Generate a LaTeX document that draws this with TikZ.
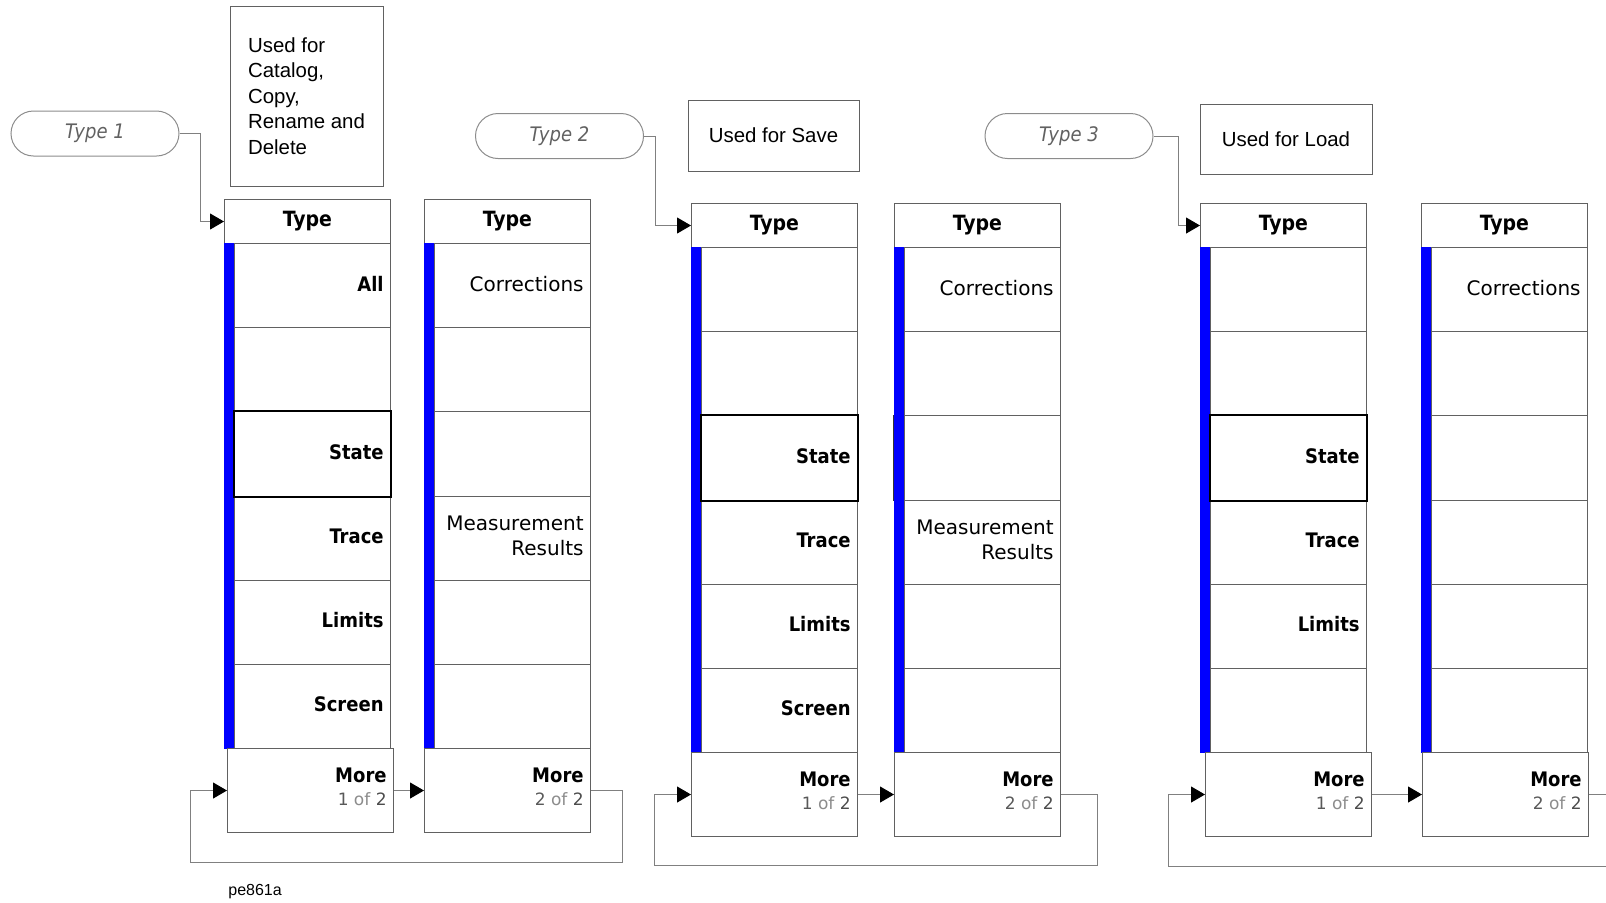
\documentclass[tikz,border=0pt]{standalone}
\usepackage{fontspec}
\setmainfont{Liberation Sans}
\newfontfamily\keyfont{DejaVu Sans Condensed}
\newfontfamily\keyregfont{DejaVu Sans}
\usetikzlibrary{arrows.meta,positioning,calc,shapes.misc}

\definecolor{keyblue}{RGB}{0,0,255}
\colorlet{keyline}{black!62}
\colorlet{linkline}{black!50}

\tikzset{
  menutitle/.style={draw=keyline, line width=0.5pt, minimum width=83pt, minimum height=22pt,
    inner sep=0pt, anchor=north west, font=\keyfont\bfseries\fontsize{10.5}{12}\selectfont},
  softkey/.style={draw=keyline, line width=0.5pt, minimum width=78pt, minimum height=42.1pt,
    inner sep=0pt, anchor=north west},
  morekey/.style={draw=keyline, line width=0.5pt, minimum width=83pt, minimum height=42pt,
    inner sep=0pt, anchor=north west},
  keybar/.style={fill=keyblue},
  keylabel/.style={anchor=east, xshift=-3.5pt, yshift=1pt, align=right, inner sep=0pt,
    font=\keyfont\bfseries\fontsize{10}{12.5}\selectfont},
  keyplain/.style={keylabel, font=\keyregfont\fontsize{10}{12.5}\selectfont},
  statebox/.style={draw=black, line width=1pt},
  pill/.style={rounded rectangle, draw=black!45, line width=0.5pt, minimum width=84pt,
    minimum height=22.5pt, inner sep=0pt, text=black!62,
    font=\keyfont\itshape\fontsize{10}{12}\selectfont},
  note/.style={draw=keyline, line width=0.5pt, inner sep=0pt, align=left,
    font=\fontsize{10.2}{12.8}\selectfont},
  link/.style={draw=linkline, line width=0.5pt, -{Triangle[length=7pt,width=8pt,color=black]}},
}

\begin{document}
\begin{tikzpicture}[x=0.5pt, y=-0.5pt]
  \useasboundingbox (0,0) rectangle (1606,902);
  \clip (0,0) rectangle (1606,902);

  % six softkey menus: number/left/top/shift of the More key
  \foreach \m/\mx/\my/\ms in {1/224/199/3, 2/424/199/0, 3/691/203/0, 4/894/203/0, 5/1200/203/5, 6/1421/203/1} {
    \node[menutitle] (m\m) at (\mx,\my) {Type};
    \fill[keybar] ({\mx},{\my+44}) rectangle ++(10,506);
    \foreach \k in {1,...,6}
      \node[softkey] (m\m-k\k) at ({\mx+10},{\my+44+(\k-1)*84.2}) {};
    \node[morekey] (m\m-more) at ({\mx+\ms},{\my+549}) {};
  }

  % key labels
  \foreach \m/\k/\txt in {1/1/All, 1/3/State, 1/4/Trace, 1/5/Limits, 1/6/Screen,
                          3/3/State, 3/4/Trace, 3/5/Limits, 3/6/Screen,
                          5/3/State, 5/4/Trace, 5/5/Limits}
    \node[keylabel] (m\m-t\k) at (m\m-k\k.east) {\txt};
  \foreach \m in {2,4} {
    \node[keyplain] (m\m-t1) at (m\m-k1.east) {Corrections};
    \node[keyplain] (m\m-t4) at (m\m-k4.east) {Measurement\\Results};
  }
  \node[keyplain] (m6-t1) at (m6-k1.east) {Corrections};

  % More keys
  \foreach \m/\p in {1/1, 2/2, 3/1, 4/2, 5/1, 6/2}
    \node[keylabel, yshift=1pt, font=\keyfont\bfseries\fontsize{10}{11.5}\selectfont] (m\m-tm) at (m\m-more.east)
      {More\\{\keyregfont\mdseries\fontsize{8.5}{10}\selectfont
       \textcolor{black!65}{\p}~\textcolor{black!45}{of}~\textcolor{black!70}{2}}};

  % highlighted State keys
  \foreach \m in {1,3,5}
    \draw[statebox] (m\m-k3.north west) rectangle (m\m-k3.south east);
  \draw[black!80, line width=0.5pt] ([xshift=-5.5pt]m4-k3.north west) -- ([xshift=-5.5pt]m4-k3.south west);

  % type bubbles and notes
  \node[pill] (t1) at (95,133.5) {Type 1};
  \node[pill] (t2) at (559.5,136) {Type 2};
  \node[pill] (t3) at (1069,136) {Type 3};
  \node[note, minimum width=76.5pt, minimum height=90pt] (n1) at (306.5,96)
    {Used for\\Catalog,\\Copy,\\Rename and\\Delete};
  \node[note, minimum width=85.5pt, minimum height=35.5pt] (n2) at (773.5,135.5) {Used for Save};
  \node[note, minimum width=86pt, minimum height=35pt] (n3) at (1286,139) {Used for Load};

  % connectors
  \draw[link] (t1.east) -- ++(21,0) |- (m1.west);
  \draw[link] (t2.east) -- ++(11,0) |- (m3.west);
  \draw[link] (t3.east) -- ++(25,0) |- (m5.west);
  \draw[link] (m1-more.east) -- (m2-more.west);
  \draw[link] (m3-more.east) -- (m4-more.west);
  \draw[link] (m5-more.east) -- (m6-more.west);

  % loops back to page 1
  \coordinate (back1) at (190,862);
  \coordinate (back2) at (654,865);
  \coordinate (back3) at (1168,866);
  \draw[link] (m2-more.east) -- ++(31,0) |- (back1) |- (m1-more.west);
  \draw[link] (m4-more.east) -- ++(36,0) |- (back2) |- (m3-more.west);
  \draw[link] (m6-more.east) -- ++(40,0) |- (back3) |- (m5-more.west);

  \node[font=\fontsize{8}{10}\selectfont, anchor=west, inner sep=0pt] (fig) at (228,892) {pe861a};
\end{tikzpicture}
\end{document}
